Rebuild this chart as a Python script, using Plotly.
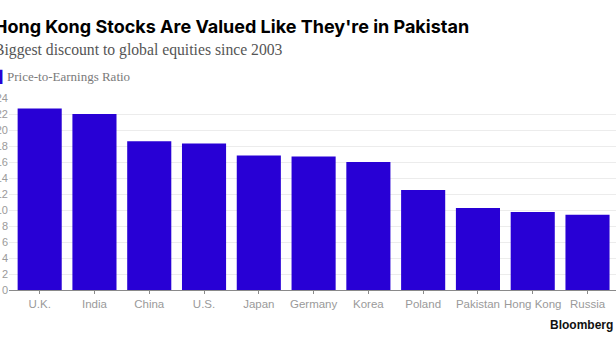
import plotly.graph_objects as go

countries = ["U.K.", "India", "China", "U.S.", "Japan", "Germany", "Korea",
             "Poland", "Pakistan", "Hong Kong", "Russia"]
pe_ratio = [22.7, 22.0, 18.6, 18.3, 16.8, 16.7, 16.0, 12.5, 10.25, 9.75, 9.4]
y_ticks = list(range(0, 25, 2))
series_name = "Price-to-Earnings Ratio"

W, H = 616, 346
L, R, T, B = 9, 0, 98, 56
pw, ph = W - L - R, H - T - B

def px_x(p):
    return (p - L) / pw

def px_y(p):
    return (H - B - p) / ph

bar_color = "#2800d5"

fig = go.Figure()
fig.add_trace(go.Bar(
    x=countries, y=pe_ratio, name=series_name,
    marker=dict(color=bar_color, line=dict(width=0)),
    showlegend=False,
))

fig.update_layout(
    width=W, height=H,
    margin=dict(l=L, r=R, t=T, b=B, pad=0, autoexpand=False),
    paper_bgcolor="white", plot_bgcolor="white",
    bargap=0.195,
    showlegend=False,
    xaxis=dict(
        range=[-0.56, 10.52], showgrid=False, showline=True,
        linecolor="#8a8a8a", linewidth=1,
        ticks="outside", ticklen=3, tickcolor="#8a8a8a",
        tickfont=dict(family="Liberation Sans, Arial, sans-serif", size=11.5, color="#9a9a9a"),
        fixedrange=True,
    ),
    yaxis=dict(
        range=[0, 24], tickvals=y_ticks, showgrid=True, gridcolor="#ececec",
        gridwidth=1, zeroline=False, showline=False, ticks="",
        tickfont=dict(family="Liberation Sans, Arial, sans-serif", size=11, color="#9a9a9a"),
        automargin=False, fixedrange=True,
    ),
    annotations=[
        dict(text="<b>Hong Kong Stocks Are Valued Like They're in Pakistan</b>",
             xref="paper", yref="paper", x=px_x(-8), y=px_y(27),
             xanchor="left", yanchor="middle", showarrow=False,
             font=dict(family="Inter, Roboto, sans-serif", size=18, color="#000000")),
        dict(text="Biggest discount to global equities since 2003",
             xref="paper", yref="paper", x=px_x(-8), y=px_y(50),
             xanchor="left", yanchor="middle", showarrow=False,
             font=dict(family="Liberation Serif, DejaVu Serif, serif", size=15.7, color="#555555")),
        dict(text="█",
             xref="paper", yref="paper", x=px_x(4), y=px_y(76),
             xanchor="right", yanchor="middle", showarrow=False, borderpad=0,
             font=dict(family="DejaVu Sans, sans-serif", size=12, color=bar_color)),
        dict(text=series_name,
             xref="paper", yref="paper", x=px_x(5), y=px_y(76),
             xanchor="left", yanchor="middle", showarrow=False,
             font=dict(family="Liberation Serif, DejaVu Serif, serif", size=13, color="#7a7a7a")),
        dict(text="<b>Bloomberg</b>",
             xref="paper", yref="paper", x=px_x(615), y=px_y(325),
             xanchor="right", yanchor="middle", showarrow=False,
             font=dict(family="Liberation Sans, Arial, sans-serif", size=12, color="#111111")),
    ],
)

fig.write_html("out.html")
